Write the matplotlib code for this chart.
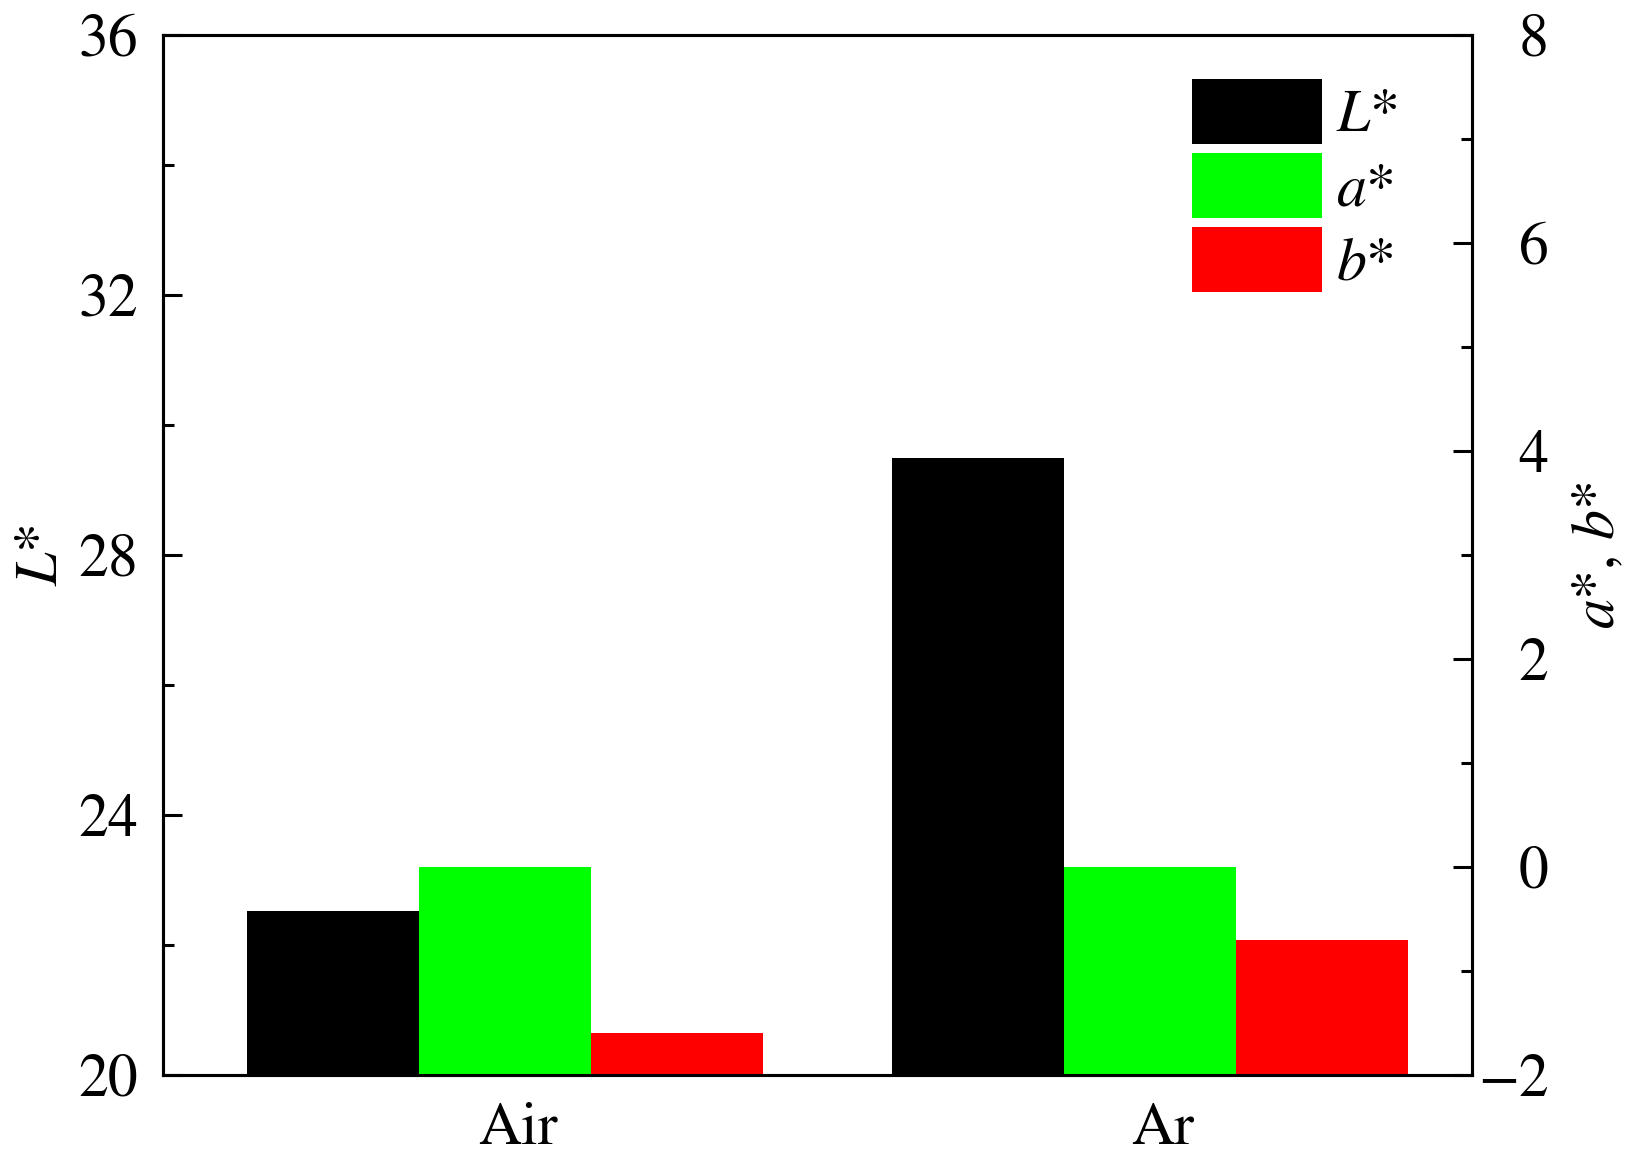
import numpy as np
import matplotlib
matplotlib.use('Agg')
import matplotlib.pyplot as plt
from matplotlib.ticker import MultipleLocator

plt.rcParams['font.family'] = 'STIXGeneral'
plt.rcParams['mathtext.fontset'] = 'stix'

# data
groups = ['Air', 'Ar']
L_star = [22.53, 29.5]
a_star = [0.0, 0.0]
b_star = [-1.6, -0.7]

fs = 43
x = np.arange(len(groups))
w = 0.8 / 3

fig = plt.figure(figsize=(16.34, 11.74), dpi=100)
ax = fig.add_axes([0.0998, 0.0843, 0.9009 - 0.0998, 0.9702 - 0.0843])
ax2 = ax.twinx()

hL = ax.bar(x - w, L_star, w, color='black', label=r'$L$*')
base = -2
ha_ = ax2.bar(x, np.array(a_star) - base, w, bottom=base, color='#00ff00', label=r'$a$*')
hb = ax2.bar(x + w, np.array(b_star) - base, w, bottom=base, color='#ff0000', label=r'$b$*')

ax.set_xlim(-0.53, 1.50)
ax.set_ylim(20, 36)
ax2.set_ylim(-2, 8)
ax.set_xticks(x + 0.02)
ax.set_xticklabels(groups)

ax.yaxis.set_major_locator(MultipleLocator(4))
ax.yaxis.set_minor_locator(MultipleLocator(2))
ax2.yaxis.set_major_locator(MultipleLocator(2))
ax2.yaxis.set_minor_locator(MultipleLocator(1))

for a in (ax, ax2):
    for s in a.spines.values():
        s.set_linewidth(2.2)
ax.tick_params(axis='y', which='both', direction='in', width=2.2, labelsize=fs, pad=18)
ax.tick_params(axis='y', which='major', length=13.5)
ax.tick_params(axis='y', which='minor', length=8)
ax.tick_params(axis='x', length=0, labelsize=fs, pad=20)
ax2.tick_params(axis='y', which='both', direction='in', width=2.2, labelsize=fs, pad=55)
ax2.tick_params(axis='y', which='major', length=13.5)
ax2.tick_params(axis='y', which='minor', length=8)
for t in ax2.get_yticklabels():
    t.set_horizontalalignment('right')

ax.set_ylabel(r'$L$*', fontsize=fs, labelpad=6)
ax2.set_ylabel(r'$a$*, $b$*', fontsize=fs, labelpad=17)

ax.legend(handles=[hL, ha_, hb], loc='upper left', bbox_to_anchor=(0.786, 0.958),
          frameon=False, fontsize=fs, handlelength=2.17, handleheight=1.3,
          labelspacing=0.14, handletextpad=0.25, borderpad=0, borderaxespad=0)

fig.savefig('out.png', dpi=100)
